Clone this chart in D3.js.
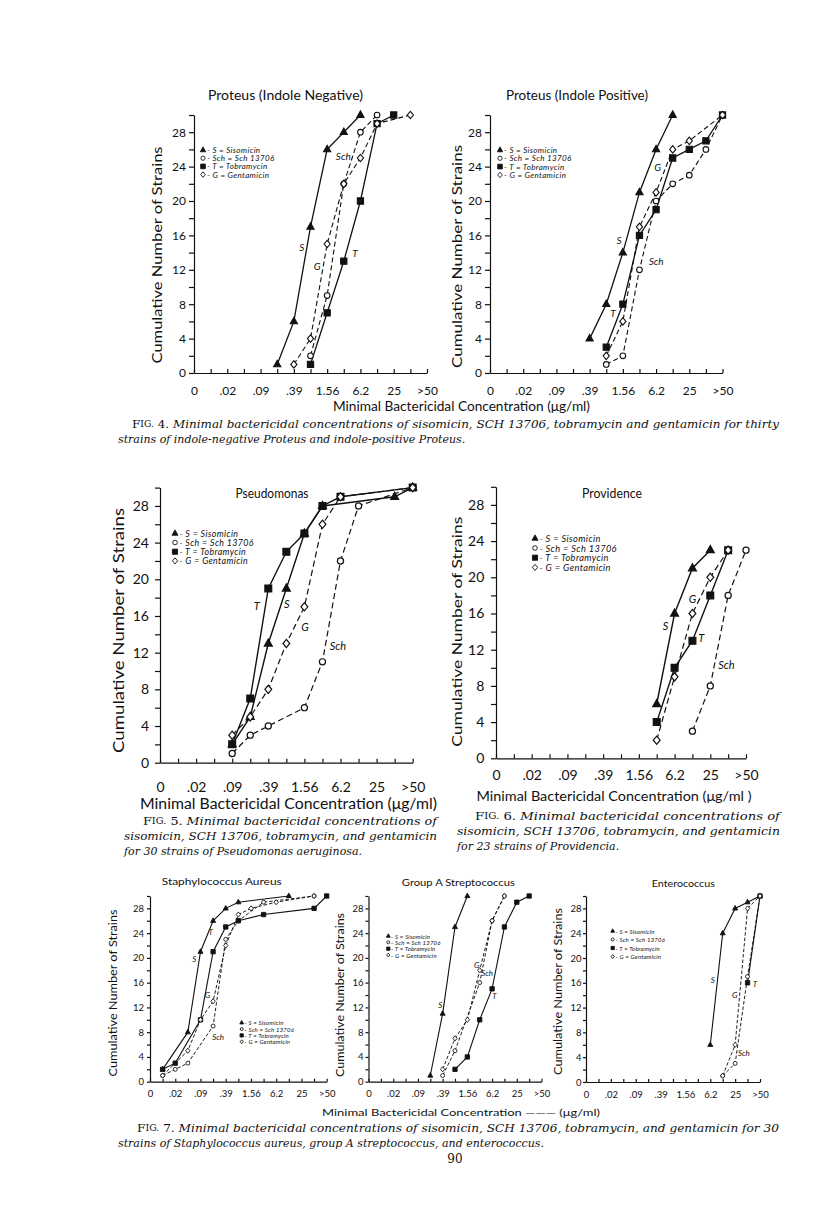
<!DOCTYPE html>
<html>
<head>
<meta charset="utf-8">
<script src="https://cdn.jsdelivr.net/npm/d3@7"></script>
<style>
  body { margin: 0; background: #fff; }
  svg { display: block; }
  text { fill: #111; }
</style>
</head>
<body>
<svg id="page" width="816" height="1224"></svg>
<script>
// twofold dilution steps; only every other one carries a tick label
let steps = ['0', '0.01', '.02', '0.05', '.09', '0.2', '.39', '0.78', '1.56', '3.1', '6.2', '12.5', '25', '50', '>50']
let tickLabels = ['0', '.02', '.09', '.39', '1.56', '6.2', '25', '>50']
let yTicks = d3.range(0, 31, 2)

let drugCodes = ['S', 'Sch', 'T', 'G']
let drugNames = ['Sisomicin', 'Sch 13706', 'Tobramycin', 'Gentamicin']

// [MIC step, cumulative number of strains]
// Proteus, indole negative
let negS   = [['0.2', 1], ['.39', 6], ['0.78', 17], ['1.56', 26], ['3.1', 28], ['6.2', 30]]
let negSch = [['0.78', 2], ['1.56', 9], ['3.1', 22], ['6.2', 28], ['12.5', 30]]
let negT   = [['0.78', 1], ['1.56', 7], ['3.1', 13], ['6.2', 20], ['12.5', 29], ['25', 30]]
let negG   = [['.39', 1], ['0.78', 4], ['1.56', 15], ['3.1', 22], ['6.2', 25], ['12.5', 29], ['50', 30]]
// Proteus, indole positive
let posS   = [['.39', 4], ['0.78', 8], ['1.56', 14], ['3.1', 21], ['6.2', 26], ['12.5', 30]]
let posSch = [['0.78', 1], ['1.56', 2], ['3.1', 12], ['6.2', 20], ['12.5', 22], ['25', 23], ['50', 26], ['>50', 30]]
let posT   = [['0.78', 3], ['1.56', 8], ['3.1', 16], ['6.2', 19], ['12.5', 25], ['25', 26], ['50', 27], ['>50', 30]]
let posG   = [['0.78', 2], ['1.56', 6], ['3.1', 17], ['6.2', 21], ['12.5', 26], ['25', 27], ['>50', 30]]
// Pseudomonas
let psS   = [['.09', 2], ['0.2', 5], ['.39', 13], ['0.78', 19], ['1.56', 25], ['3.1', 28], ['50', 29], ['>50', 30]]
let psSch = [['.09', 1], ['0.2', 3], ['.39', 4], ['1.56', 6], ['3.1', 11], ['6.2', 22], ['12.5', 28], ['>50', 30]]
let psT   = [['.09', 2], ['0.2', 7], ['.39', 19], ['0.78', 23], ['1.56', 25], ['3.1', 28], ['6.2', 29], ['>50', 30]]
let psG   = [['.09', 3], ['0.2', 5], ['.39', 8], ['0.78', 13], ['1.56', 17], ['3.1', 26], ['6.2', 29], ['>50', 30]]
// Providence
let prS   = [['3.1', 6], ['6.2', 16], ['12.5', 21], ['25', 23]]
let prSch = [['12.5', 3], ['25', 8], ['50', 18], ['>50', 23]]
let prT   = [['3.1', 4], ['6.2', 10], ['12.5', 13], ['25', 18], ['50', 23]]
let prG   = [['3.1', 2], ['6.2', 9], ['12.5', 16], ['25', 20], ['50', 23]]
// Staphylococcus aureus
let saS   = [['0.01', 2], ['0.05', 8], ['.09', 21], ['0.2', 26], ['.39', 28], ['0.78', 29], ['12.5', 30]]
let saSch = [['0.01', 1], ['.02', 2], ['0.05', 3], ['0.2', 9], ['.39', 23], ['0.78', 26], ['3.1', 29], ['50', 30]]
let saT   = [['0.01', 2], ['.02', 3], ['.09', 10], ['0.2', 21], ['.39', 25], ['0.78', 26], ['3.1', 27], ['50', 28], ['>50', 30]]
let saG   = [['0.01', 1], ['0.05', 5], ['.09', 10], ['0.2', 13], ['.39', 22], ['0.78', 27], ['1.56', 28], ['6.2', 29], ['50', 30]]
// Group A streptococcus
let stS   = [['0.2', 1], ['.39', 11], ['0.78', 25], ['1.56', 30]]
let stSch = [['.39', 1], ['0.78', 5], ['3.1', 16], ['6.2', 26], ['12.5', 30]]
let stT   = [['0.78', 2], ['1.56', 4], ['3.1', 10], ['6.2', 15], ['12.5', 25], ['25', 29], ['50', 30]]
let stG   = [['.39', 2], ['0.78', 7], ['1.56', 10], ['3.1', 18], ['6.2', 26], ['12.5', 30]]
// Enterococcus
let enS   = [['6.2', 6], ['12.5', 24], ['25', 28], ['50', 29], ['>50', 30]]
let enSch = [['12.5', 1], ['25', 3], ['50', 17], ['>50', 30]]
let enT   = [['50', 16], ['>50', 30]]
let enG   = [['12.5', 1], ['25', 6], ['50', 28], ['>50', 30]]

let sans = 'Lato, "DejaVu Sans", sans-serif'
let serif = '"DejaVu Serif", serif'

let svg = d3.select('#page')

// layout of each panel (pixels); legend = [x, y, row gap, font size, letter spacing]
let panels = [
  { series: [negS, negSch, negT, negG], x0: 194, x1: 427, y0: 373, y1: 115,
    tickFont: 12, yTick: 5, yPad: 3, xTick: 4, xPad: 13, ms: 1, lw: 1.3, dash: '5,3',
    title: 'Proteus (Indole Negative)', tx: 285.5, ty: 95, tlen: 155, tfont: 13,
    ylab: [157, 255, 217, 13],
    legend: [203, 150, 8.2, 8, 0.35],
    labelFont: 10,
    labels: [['S', 6.47, 14.7], ['G', 7.4, 12.4], ['Sch', 8.97, 25.2], ['T', 9.67, 14.0]] },
  { series: [posS, posSch, posT, posG], x0: 490, x1: 722.5, y0: 373, y1: 115,
    tickFont: 12, yTick: 5, yPad: 3, xTick: 4, xPad: 13, ms: 1, lw: 1.3, dash: '5,3',
    title: 'Proteus (Indole Positive)', tx: 577, ty: 95, tlen: 142, tfont: 13,
    ylab: [456.7, 256.5, 223, 13],
    legend: [500, 150, 8.3, 8, 0.35],
    labelFont: 10,
    labels: [['S', 7.77, 15.5], ['Sch', 10.0, 13.0], ['G', 10.1, 23.9], ['T', 7.4, 7.0]] },
  { series: [psS, psSch, psT, psG], x0: 160, x1: 412.7, y0: 762.7, y1: 487.6,
    tickFont: 14, yTick: 5, yPad: 6, xTick: 4, xPad: 19, ms: 1.1, lw: 1.4, dash: '6,3.5',
    title: 'Pseudomonas', tx: 272, ty: 493, tlen: 73, tfont: 13.5,
    ylab: [118.3, 630.5, 245, 15],
    legend: [175, 533.3, 9.2, 8.8, 0.4],
    labelFont: 11,
    labels: [['T', 5.36, 17.1], ['S', 7.02, 17.4], ['G', 8.03, 14.9], ['Sch', 9.86, 12.8]] },
  { series: [prS, prSch, prT, prG], x0: 496, x1: 746, y0: 758.3, y1: 486.8,
    tickFont: 14, yTick: 5, yPad: 6.7, xTick: 4, xPad: 12, ms: 1.1, lw: 1.4, dash: '6,3.5',
    title: 'Providence', tx: 612, ty: 493, tlen: 60, tfont: 13.5,
    ylab: [456.7, 631.7, 230, 14],
    legend: [535, 538.3, 9.7, 9.2, 0.4],
    labelFont: 11,
    labels: [['S', 9.5, 14.7], ['G', 11.0, 17.7], ['T', 11.5, 13.3], ['Sch', 12.9, 10.4]] },
  { series: [saS, saSch, saT, saG], x0: 150, x1: 326.7, y0: 1081.7, y1: 896,
    tickFont: 9.5, yTick: 3, yPad: 3, xTick: 3, xPad: 9, ms: 0.7, lw: 1.1, dash: '3.5,2',
    title: 'Staphylococcus  Aureus', tx: 221.7, ty: 881.7, tlen: 120, tfont: 9.5,
    ylab: [113.3, 993, 167, 10.5],
    legend: [241.7, 1022.7, 6.35, 6, 0.2],
    labelFont: 8,
    labels: [['S', 3.5, 19.8], ['T', 4.8, 24.2], ['G', 4.55, 14.0], ['Sch', 5.4, 7.3]] },
  { series: [stS, stSch, stT, stG], x0: 368.5, x1: 541.5, y0: 1081.7, y1: 896,
    tickFont: 9.5, yTick: 3, yPad: 2, xTick: 3, xPad: 9, ms: 0.7, lw: 1.1, dash: '3.5,2',
    title: 'Group A  Streptococcus', tx: 458.3, ty: 882.7, tlen: 113, tfont: 9.5,
    ylab: [340, 995, 164, 10.5],
    legend: [388.3, 936, 6.35, 6, 0.2],
    labelFont: 8,
    labels: [['S', 5.8, 12.4], ['G', 8.76, 18.9], ['Sch', 9.6, 17.5], ['T', 10.2, 13.8]] },
  { series: [enS, enSch, enT, enG], x0: 586, x1: 760, y0: 1082, y1: 896,
    tickFont: 9.5, yTick: 3, yPad: 1.5, xTick: 3, xPad: 9, ms: 0.7, lw: 1.1, dash: '3.5,2',
    title: 'Enterococcus', tx: 683.3, ty: 883.3, tlen: 63, tfont: 9.5,
    ylab: [558, 991.5, 167, 10.5],
    legend: [612.7, 931, 8.5, 6, 0.2],
    labelFont: 8,
    labels: [['S', 10.2, 16.5], ['G', 11.96, 14.0], ['T', 13.6, 15.8], ['Sch', 12.7, 4.6]] }
]

let markerKind = ['tri', 'circle', 'square', 'diamond']
let dashed = [false, true, false, true]

let drawMarker = (g, kind, cx, cy, s) => {
  if (kind === 'circle') {
    g.append('circle').attr('cx', cx).attr('cy', cy).attr('r', 2.8 * s)
      .attr('fill', '#fff').attr('stroke', '#111').attr('stroke-width', 1.1 * Math.max(s, 0.8))
    return
  }
  let r, d
  if (kind === 'tri') {
    r = 3.6 * s
    d = `M0,${-r * 1.15}L${r},${r * 0.65}L${-r},${r * 0.65}Z`
  } else if (kind === 'square') {
    r = 3.1 * s
    d = `M${-r},${-r}h${2 * r}v${2 * r}h${-2 * r}Z`
  } else {
    r = 3.1 * s
    d = `M0,${-r * 1.2}L${r},0L0,${r * 1.2}L${-r},0Z`
  }
  g.append('path').attr('d', d).attr('transform', `translate(${cx},${cy})`)
    .attr('fill', kind === 'diamond' ? '#fff' : '#111')
    .attr('stroke', '#111').attr('stroke-width', 1.1 * Math.max(s, 0.8))
}

let drawPanel = (p) => {
  let g = svg.append('g')
  let x = d3.scaleLinear().domain([0, steps.length - 1]).range([p.x0, p.x1])
  let y = d3.scaleLinear().domain([0, 30]).range([p.y0, p.y1])
  let xs = (c) => x(steps.indexOf(c))

  let yAxis = d3.axisLeft(y).tickValues(yTicks).tickSize(p.yTick).tickSizeOuter(0).tickPadding(p.yPad)
    .tickFormat(d => (d % 4 === 0 && d < 30) ? d : '')
  let ya = g.append('g').attr('transform', `translate(${p.x0},0)`).call(yAxis)

  let xAxis = d3.axisBottom(x).tickValues(d3.range(0, steps.length)).tickSize(-p.xTick).tickSizeOuter(0)
    .tickPadding(p.xPad).tickFormat(i => i % 2 === 0 ? tickLabels[i / 2] : '')
  let xa = g.append('g').attr('transform', `translate(0,${p.y0})`).call(xAxis)

  ;[ya, xa].forEach(a => {
    a.attr('font-family', sans).attr('font-size', p.tickFont)
    a.selectAll('path, line').attr('stroke', '#111').attr('stroke-width', 1.2)
    a.selectAll('text').attr('fill', '#111')
  })

  // title and axis label
  g.append('text').attr('x', p.tx).attr('y', p.ty)
    .attr('text-anchor', 'middle').attr('dominant-baseline', 'central')
    .attr('font-family', sans).attr('font-size', p.tfont)
    .attr('textLength', p.tlen).attr('lengthAdjust', 'spacingAndGlyphs')
    .text(p.title)
  g.append('text')
    .attr('transform', `translate(${p.ylab[0]},${p.ylab[1]}) rotate(-90)`)
    .attr('text-anchor', 'middle').attr('dominant-baseline', 'central')
    .attr('font-family', sans).attr('font-size', p.ylab[3])
    .attr('textLength', p.ylab[2]).attr('lengthAdjust', 'spacingAndGlyphs')
    .text('Cumulative Number of Strains')

  // curves
  let line = d3.line().x(d => xs(d[0])).y(d => y(d[1]))
  p.series.forEach((s, i) => {
    g.append('path').attr('d', line(s)).attr('fill', 'none')
      .attr('stroke', '#111').attr('stroke-width', dashed[i] ? p.lw * 0.85 : p.lw)
      .attr('stroke-dasharray', dashed[i] ? p.dash : null)
  })
  p.series.forEach((s, i) => {
    s.forEach(d => drawMarker(g, markerKind[i], xs(d[0]), y(d[1]), p.ms))
  })

  // curve labels
  p.labels.forEach(l => {
    g.append('text').attr('x', x(l[1])).attr('y', y(l[2]))
      .attr('text-anchor', 'middle').attr('dominant-baseline', 'central')
      .attr('font-family', sans).attr('font-style', 'italic').attr('font-size', p.labelFont)
      .text(l[0])
  })

  // legend
  let [lx, ly, ldy, lf, ls] = p.legend
  drugCodes.forEach((c, i) => {
    drawMarker(g, markerKind[i], lx, ly + i * ldy, p.ms * 0.75)
    g.append('text').attr('x', lx + 4 * p.ms).attr('y', ly + i * ldy)
      .attr('dominant-baseline', 'central')
      .attr('font-family', sans).attr('font-style', 'italic').attr('font-size', lf)
      .attr('letter-spacing', ls)
      .text(`- ${c} = ${drugNames[i]}`)
  })
}

panels.forEach(drawPanel)

// shared axis titles
let axisTitle = (t, cx, cy, len, size) => {
  svg.append('text').attr('x', cx).attr('y', cy)
    .attr('text-anchor', 'middle').attr('dominant-baseline', 'central')
    .attr('font-family', sans).attr('font-size', size)
    .attr('textLength', len).attr('lengthAdjust', 'spacingAndGlyphs')
    .text(t)
}
axisTitle('Minimal Bactericidal Concentration   (\u03bcg/ml)', 461.5, 405, 257, 14)
axisTitle('Minimal Bactericidal Concentration  (\u03bcg/ml)', 288.5, 803, 297, 14.5)
axisTitle('Minimal Bactericidal Concentration   (\u03bcg/ml )', 614, 795, 275, 14)
axisTitle('Minimal    Bactericidal    Concentration \u2014\u2014\u2014 (\u03bcg/ml)', 461, 1112, 278, 9.5)

// captions: figure no., text, x, y, justified length or null
let caption = (fig, body, x, y, len) => {
  let t = svg.append('text').attr('x', x).attr('y', y).attr('dominant-baseline', 'central')
    .attr('font-family', serif).attr('font-size', 11)
  if (len) t.attr('textLength', len).attr('lengthAdjust', 'spacingAndGlyphs')
  if (fig) {
    t.append('tspan').text('F')
    t.append('tspan').attr('font-size', 8.5).text('IG.')
    t.append('tspan').text(` ${fig}. `)
  }
  t.append('tspan').attr('font-style', 'italic').text(body)
}
caption('4', 'Minimal bactericidal concentrations of sisomicin, SCH 13706, tobramycin and gentamicin for thirty', 132, 424, 647)
caption(null, 'strains of indole-negative Proteus and indole-positive Proteus.', 118, 439, null)
caption('5', 'Minimal bactericidal concentrations of', 143, 821, 294)
caption(null, 'sisomicin, SCH 13706, tobramycin, and gentamicin', 124, 836, 313)
caption(null, 'for 30 strains of Pseudomonas aeruginosa.', 124, 851, null)
caption('6', 'Minimal bactericidal concentrations of', 475, 816, 305)
caption(null, 'sisomicin, SCH 13706, tobramycin, and gentamicin', 457, 831, 323)
caption(null, 'for 23 strains of Providencia.', 457, 846, null)
caption('7', 'Minimal bactericidal concentrations of sisomicin, SCH 13706, tobramycin, and gentamicin for 30', 137, 1128, 642)
caption(null, 'strains of Staphylococcus aureus, group A streptococcus, and enterococcus.', 118, 1143, null)

svg.append('text').attr('x', 455).attr('y', 1159).attr('text-anchor', 'middle')
  .attr('dominant-baseline', 'central').attr('font-family', serif).attr('font-size', 12).text('90')
</script>
</body>
</html>
